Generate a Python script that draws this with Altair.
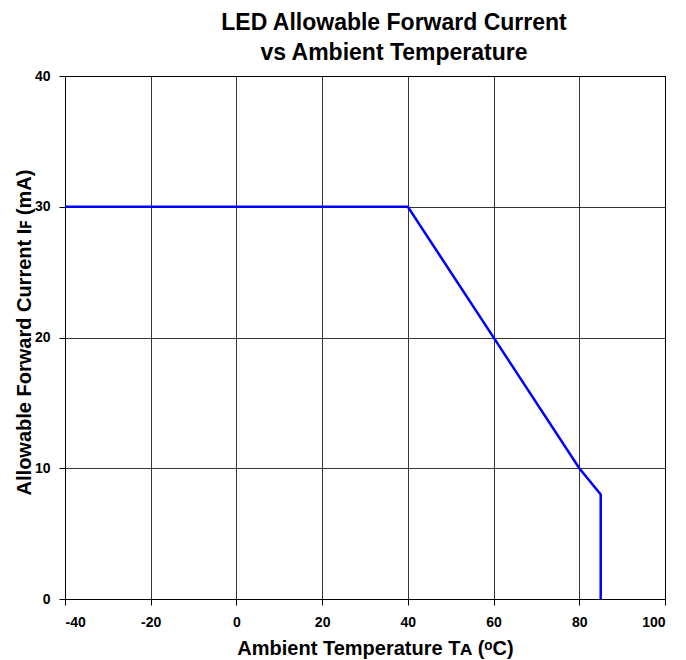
import altair as alt
import pandas as pd

temps = [-40, 40, 80, 85, 85]
currents = [30, 30, 10, 8, 0]
order = [0, 1, 2, 3, 4]
x_ticks = [-40, -20, 0, 20, 40, 60, 80, 100]
y_ticks = [0, 10, 20, 30, 40]

df = pd.DataFrame({"t": temps, "i": currents, "o": order})

font = "Liberation Sans"

chart = alt.Chart(df).mark_line(color="#0000FF", strokeWidth=2.5, clip=False).encode(
    x=alt.X("t:Q", scale=alt.Scale(domain=[-40, 100], nice=False),
            axis=alt.Axis(values=x_ticks, title="Ambient Temperature T\u1D00 (\u1D52C)",
                          titleX=310, titleY=55, titleBaseline="alphabetic",
                          labelPadding=10, labelExpr="'' + datum.value")),
    y=alt.Y("i:Q", scale=alt.Scale(domain=[0, 40], nice=False),
            axis=alt.Axis(values=y_ticks, title="Allowable Forward Current I\uA730 (mA)",
                          titleX=-35, titleY=256, titleBaseline="alphabetic",
                          titleAngle=270, titleAlign="center",
                          labelPadding=9, labelExpr="'' + datum.value")),
    order="o:O",
).properties(
    width=600, height=523,
    autosize="none",
    padding={"left": 57, "top": 68, "right": 13, "bottom": 61},
    title=alt.TitleParams(["LED Allowable Forward Current", "vs Ambient Temperature"],
                          font=font, fontSize=23, fontWeight="bold", color="black",
                          anchor="middle", offset=4, lineHeight=30, dx=29),
).configure_view(stroke="black", strokeWidth=1).configure_axis(
    grid=True, gridColor="black", gridOpacity=1, gridWidth=0.8,
    domainColor="black", domainWidth=1, tickColor="black", tickSize=6,
    labelFont=font, labelFontSize=14, labelFontWeight="bold", labelColor="black",
    titleFont=font, titleFontSize=20, titleFontWeight="bold", titleColor="black",
)

chart.save("out.html", embed_options={"renderer": "svg", "actions": False})
